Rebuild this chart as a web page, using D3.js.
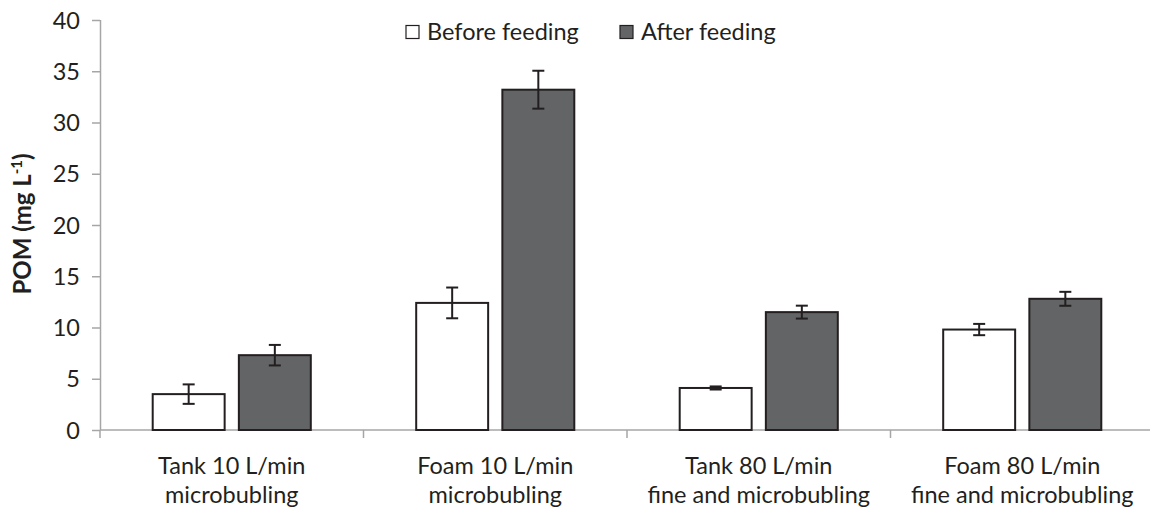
<!DOCTYPE html>
<html><head><meta charset="utf-8">
<script src="https://cdn.jsdelivr.net/npm/d3@7"></script>
<style>body{margin:0;background:#fff}text{font-family:Lato,"Open Sans",sans-serif;fill:#231f20}</style>
</head><body><svg id="c" width="1150" height="510"></svg>
<script>
const categories = [["Tank 10 L/min","microbubling"],["Foam 10 L/min","microbubling"],["Tank 80 L/min","fine and microbubling"],["Foam 80 L/min","fine and microbubling"]];
const seriesNames = ["Before feeding","After feeding"];
const before = [3.5, 12.4, 4.1, 9.8];
const beforeErr = [0.95, 1.5, 0.15, 0.55];
const after = [7.3, 33.2, 11.5, 12.8];
const afterErr = [1.0, 1.85, 0.63, 0.68];
const yTicks = [0,5,10,15,20,25,30,35,40];
const colors = ["#ffffff","#636466"];

const svg = d3.select("#c");
const m = {l:100, r:-4, t:20, b:80};
const W = 1150, H = 510;
const x = d3.scaleBand().domain(d3.range(categories.length)).range([m.l, W - m.r]).paddingInner(0).paddingOuter(0);
const y = d3.scaleLinear().domain([0,40]).range([H - m.b, m.t]);
const bw = x.bandwidth();
const inner = d3.scaleBand().domain([0,1]).range([0.2*bw, 0.8*bw]).paddingInner(0.165).paddingOuter(0);
const FS = "23.5px";

// y axis
const ya = svg.append("g").attr("transform",`translate(${m.l},0)`)
  .call(d3.axisLeft(y).tickValues(yTicks).tickSize(8).tickPadding(12));
ya.selectAll("path,line").attr("stroke","#a6a6a6").attr("stroke-width",1.5);
ya.selectAll("text").style("font-size",FS).attr("dy","0.35em");
ya.select(".domain").attr("d",`M0.5,${y(40)}V${y(0)}`);

// x axis
const xa = svg.append("g").attr("transform",`translate(0,${y(0)})`);
xa.append("line").attr("x1",m.l).attr("x2",W).attr("y1",0).attr("y2",0).attr("stroke","#a6a6a6").attr("stroke-width",1.5);
const bounds = d3.range(categories.length+1).map(i => i<categories.length ? x(i) : x(categories.length-1)+bw);
xa.selectAll(".tk").data(bounds).join("line").attr("x1",d=>d).attr("x2",d=>d).attr("y1",0).attr("y2",8).attr("stroke","#a6a6a6").attr("stroke-width",1.5);
const lab = xa.selectAll(".lab").data(categories).join("text")
  .attr("text-anchor","middle").style("font-size",FS)
  .attr("transform",(d,i)=>`translate(${x(i)+bw/2},0)`);
lab.append("tspan").attr("x",0).attr("y",44).text(d=>d[0]);
lab.append("tspan").attr("x",0).attr("y",73).text(d=>d[1]);

// bars
const data = [before, after];
const errs = [beforeErr, afterErr];
data.forEach((vals, s) => {
  const g = svg.append("g");
  g.selectAll("rect").data(vals).join("rect")
    .attr("x",(d,i)=>x(i)+inner(s)).attr("width",inner.bandwidth())
    .attr("y",d=>y(d)).attr("height",d=>y(0)-y(d))
    .attr("fill",colors[s]).attr("stroke","#231f20").attr("stroke-width",2);
  const eg = g.selectAll(".e").data(vals).join("g");
  const cx = (d,i)=>x(i)+inner(s)+inner.bandwidth()/2;
  eg.append("line").attr("x1",cx).attr("x2",cx)
    .attr("y1",(d,i)=>y(d+errs[s][i])).attr("y2",(d,i)=>y(d-errs[s][i])).attr("stroke","#231f20").attr("stroke-width",2);
  [1,-1].forEach(sg=>{
    eg.append("line").attr("x1",(d,i)=>cx(d,i)-6).attr("x2",(d,i)=>cx(d,i)+6)
      .attr("y1",(d,i)=>y(d+sg*errs[s][i])).attr("y2",(d,i)=>y(d+sg*errs[s][i])).attr("stroke","#231f20").attr("stroke-width",2);
  });
});

// y label
const yl = svg.append("text").attr("transform","translate(31,224) rotate(-90)").attr("text-anchor","middle")
  .style("font-size","24px").style("font-weight","bold");
yl.append("tspan").text("POM (mg L");
yl.append("tspan").attr("dy",-9).style("font-size","15px").text("-1");
yl.append("tspan").attr("dy",9).text(")");

// legend
const lg = svg.append("g").attr("transform","translate(406,25)");
const lx = [0, 214];
seriesNames.forEach((n,i)=>{
  lg.append("rect").attr("x",lx[i]).attr("y",0.5).attr("width",13).attr("height",13).attr("fill",colors[i]).attr("stroke","#231f20").attr("stroke-width",1.2);
  lg.append("text").attr("x",lx[i]+21).attr("y",14.5).style("font-size",FS).text(n);
});
</script></body></html>
